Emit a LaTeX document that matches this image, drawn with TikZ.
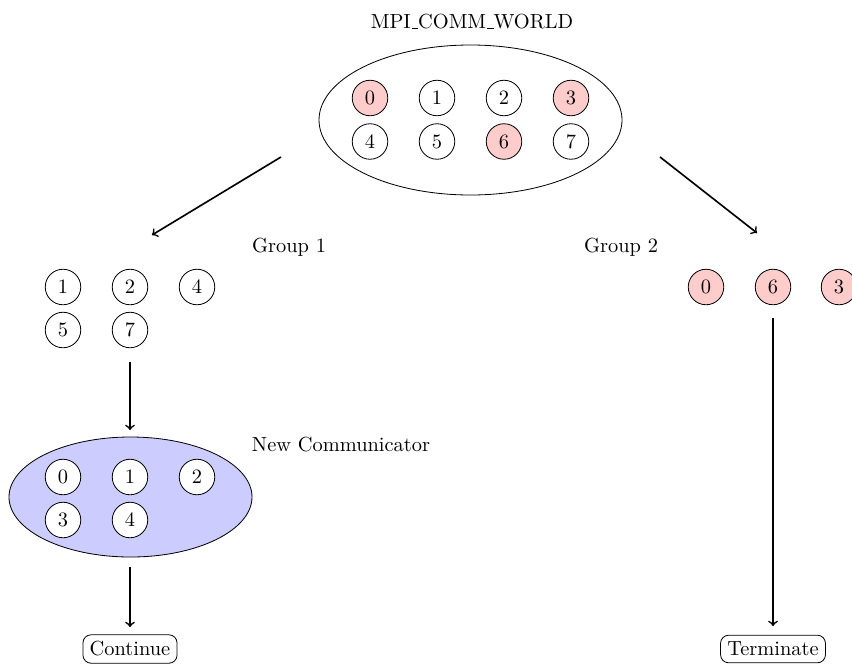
\documentclass[tikz,border=0pt]{standalone}
\usetikzlibrary{shapes.geometric}
% rule-style underscore, as in the classic OT1 text fonts
\newcommand{\rulebar}{\leavevmode\kern.06em\vbox{\hrule width.3em}}
\tikzset{
  proc/.style={circle, draw, minimum size=17.4pt, inner sep=0pt},
  hot/.style={proc, fill=red!20},
  commset/.style={ellipse, draw},
  flow/.style={->, thick},
  endbox/.style={draw, rounded corners=4pt}
}
\begin{document}
\begin{tikzpicture}[x=0.49pt, y=-0.49pt]
\useasboundingbox (0,0) rectangle (852,663);

% MPI_COMM_WORLD with all eight ranks
\node (worldlbl) at (472,22) {MPI\rulebar COMM\rulebar WORLD};
\node[commset, minimum width=303*0.49pt, minimum height=150*0.49pt] (world) at (470.5,120) {};
\node[hot]  (w0) at (370,98) {0};
\node[proc] (w1) at (437,98) {1};
\node[proc] (w2) at (504,98) {2};
\node[hot]  (w3) at (571,98) {3};
\node[proc] (w4) at (370,141.5) {4};
\node[proc] (w5) at (437,141.5) {5};
\node[hot]  (w6) at (504,141.5) {6};
\node[proc] (w7) at (571,141.5) {7};

% split arrows
\coordinate (sl0) at (281,157);
\coordinate (sl1) at (152,235);
\coordinate (sr0) at (660,157);
\coordinate (sr1) at (757,233);
\draw[flow] (sl0) -- (sl1);
\draw[flow] (sr0) -- (sr1);

% Group 1
\node (g1lbl) at (289,247) {Group 1};
\node[proc] (a1) at (63,287) {1};
\node[proc] (a2) at (130,287) {2};
\node[proc] (a4) at (197,287) {4};
\node[proc] (a5) at (63,330) {5};
\node[proc] (a7) at (130,330) {7};

% Group 2
\node (g2lbl) at (621,247) {Group 2};
\node[hot] (b0) at (706,287) {0};
\node[hot] (b6) at (773,287) {6};
\node[hot] (b3) at (839,287) {3};

% new communicator built from group 1
\coordinate (c0) at (130,362);
\coordinate (c1) at (130,430);
\draw[flow] (c0) -- (c1);
\node (nclbl) at (341,445) {New Communicator};
\node[commset, fill=blue!20, minimum width=243*0.49pt, minimum height=120*0.49pt] (newcomm) at (130.5,497) {};
\node[proc, fill=white] (n0) at (63,477) {0};
\node[proc, fill=white] (n1) at (130,477) {1};
\node[proc, fill=white] (n2) at (197,477) {2};
\node[proc, fill=white] (n3) at (63,520) {3};
\node[proc, fill=white] (n4) at (130,520) {4};

% outcomes
\node[endbox] (cont) at (130,649) {Continue};
\node[endbox] (term) at (773,649) {Terminate};
\coordinate (d0) at (130,567);
\coordinate (d1) at (130,627);
\coordinate (e0) at (773,318);
\coordinate (e1) at (773,626);
\draw[flow] (d0) -- (d1);
\draw[flow] (e0) -- (e1);
\end{tikzpicture}
\end{document}
